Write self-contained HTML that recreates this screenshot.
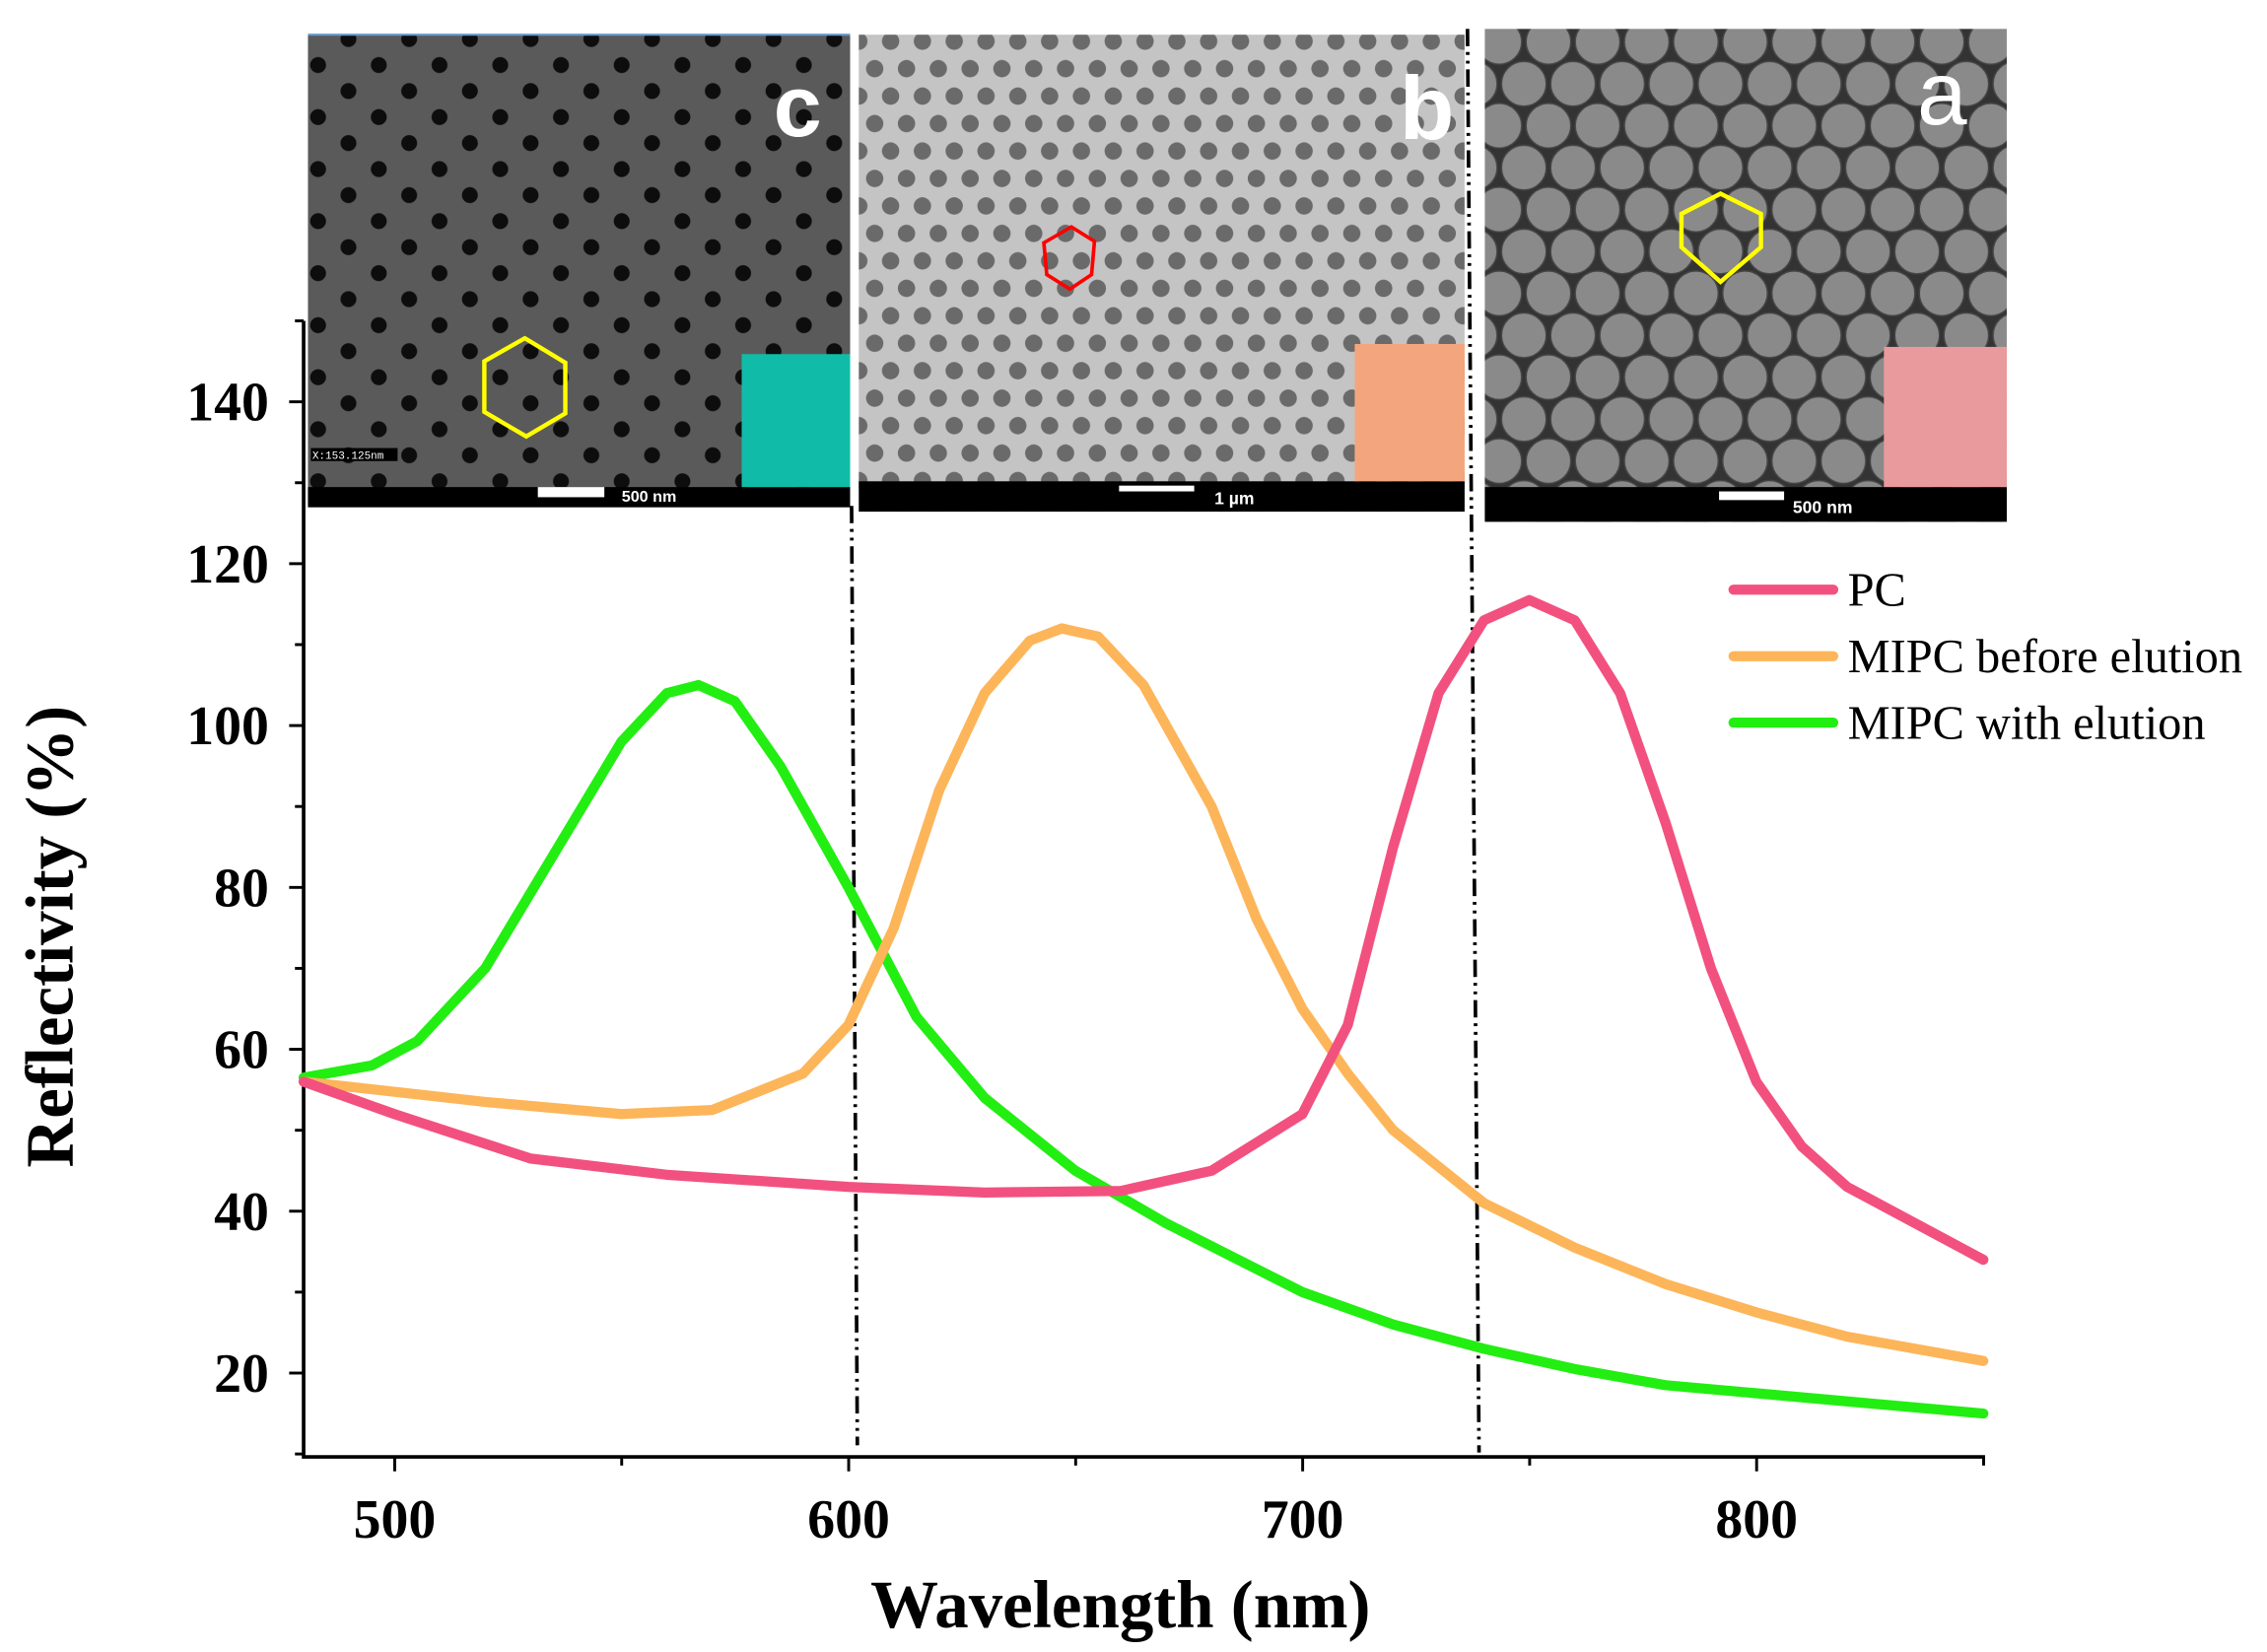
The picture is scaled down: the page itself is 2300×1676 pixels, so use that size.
<!DOCTYPE html>
<html><head><meta charset="utf-8"><style>html,body{margin:0;padding:0;background:#fff}svg{display:block}</style></head>
<body>
<svg width="2300" height="1676" viewBox="0 0 1568 1143" preserveAspectRatio="none" xmlns="http://www.w3.org/2000/svg">
<defs>
<pattern id="pc" width="42" height="36" patternUnits="userSpaceOnUse">
<rect width="42" height="36" fill="#5a5a5a"/>
<circle cx="10" cy="9" r="5.5" fill="#0d0d0d"/><circle cx="31" cy="27" r="5.5" fill="#0d0d0d"/>
</pattern>
<pattern id="pb" width="22" height="38" patternUnits="userSpaceOnUse">
<rect width="22" height="38" fill="#c4c4c4"/>
<circle cx="11" cy="9.5" r="6" fill="#6a6a6a"/><circle cx="0" cy="28.5" r="6" fill="#6a6a6a"/><circle cx="22" cy="28.5" r="6" fill="#6a6a6a"/>
</pattern>
<pattern id="pa" width="34" height="58" patternUnits="userSpaceOnUse">
<rect width="34" height="58" fill="#333"/>
<g fill="#8a8a8a" stroke="#444" stroke-width="1">
<circle cx="0" cy="0" r="15.5"/><circle cx="34" cy="0" r="15.5"/><circle cx="17" cy="29" r="15.5"/><circle cx="0" cy="58" r="15.5"/><circle cx="34" cy="58" r="15.5"/>
</g>
</pattern>
</defs>
<rect width="1568" height="1143" fill="#fff"/>

<!-- SEM c -->
<rect x="213" y="24" width="375" height="326" fill="url(#pc)"/>
<line x1="213" y1="24" x2="588" y2="24" stroke="#6a9ac8" stroke-width="1.5"/>
<rect x="213" y="337" width="375" height="14" fill="#000"/>
<rect x="372" y="337" width="46" height="7" fill="#fff"/>
<text x="430" y="347" font-family="Liberation Sans,sans-serif" font-weight="bold" font-size="11" fill="#fff">500 nm</text>
<rect x="215" y="310" width="60" height="9" fill="#000"/>
<text x="216" y="317.5" font-family="Liberation Mono,monospace" font-size="7.5" fill="#fff">X:153.125nm</text>
<rect x="513" y="245" width="75" height="92" fill="#10bca8"/>
<text x="535" y="94" font-family="Liberation Sans,sans-serif" font-weight="bold" font-size="60" fill="#fff">c</text>
<polygon points="363,234 391,251 391,286 364,302 335,285 335,250" fill="none" stroke="#ffff00" stroke-width="3"/>

<!-- SEM b -->
<rect x="594" y="24" width="419" height="330" fill="url(#pb)"/>
<rect x="594" y="333" width="419" height="21" fill="#000"/>
<rect x="774" y="336" width="52" height="4" fill="#fff"/>
<text x="840" y="349" font-family="Liberation Sans,sans-serif" font-weight="bold" font-size="12" fill="#fff">1 µm</text>
<rect x="937" y="238" width="76" height="95" fill="#f3a67e"/>
<text x="968" y="96" font-family="Liberation Sans,sans-serif" font-weight="bold" font-size="62" fill="#fff">b</text>
<polygon points="741,157 757,167 755,190 740,200 724,190 722,168" fill="none" stroke="#ff0000" stroke-width="2.5"/>

<!-- SEM a -->
<rect x="1027" y="20" width="361" height="341" fill="url(#pa)"/>
<rect x="1027" y="337" width="361" height="24" fill="#000"/>
<rect x="1189" y="340" width="45" height="6" fill="#fff"/>
<text x="1240" y="355" font-family="Liberation Sans,sans-serif" font-weight="bold" font-size="12" fill="#fff">500 nm</text>
<rect x="1303" y="240" width="85" height="97" fill="#e99a9c"/>
<text x="1326" y="86" font-family="Liberation Sans,sans-serif" font-size="62" fill="#fff">a</text>
<polygon points="1190,195 1218,171 1218,148 1190,134 1163,148 1163,171" fill="none" stroke="#ffff00" stroke-width="3"/>

<!-- axes -->
<g stroke="#000" stroke-width="2.5" fill="none">
<polyline points="210,222 210,1008 1373,1008"/>
</g>
<g stroke="#000" stroke-width="2">
<line x1="200" y1="950" x2="210" y2="950"/><line x1="200" y1="838" x2="210" y2="838"/><line x1="200" y1="726" x2="210" y2="726"/><line x1="200" y1="614" x2="210" y2="614"/><line x1="200" y1="502" x2="210" y2="502"/><line x1="200" y1="390" x2="210" y2="390"/><line x1="200" y1="278" x2="210" y2="278"/>
<line x1="204" y1="894" x2="210" y2="894"/><line x1="204" y1="782" x2="210" y2="782"/><line x1="204" y1="670" x2="210" y2="670"/><line x1="204" y1="558" x2="210" y2="558"/><line x1="204" y1="446" x2="210" y2="446"/><line x1="204" y1="334" x2="210" y2="334"/><line x1="204" y1="222" x2="210" y2="222"/><line x1="204" y1="1006" x2="210" y2="1006"/>
<line x1="273" y1="1008" x2="273" y2="1018"/><line x1="587" y1="1008" x2="587" y2="1018"/><line x1="901" y1="1008" x2="901" y2="1018"/><line x1="1215" y1="1008" x2="1215" y2="1018"/>
<line x1="430" y1="1008" x2="430" y2="1014"/><line x1="744" y1="1008" x2="744" y2="1014"/><line x1="1058" y1="1008" x2="1058" y2="1014"/><line x1="1372" y1="1008" x2="1372" y2="1014"/>
</g>
<g font-family="Liberation Serif,serif" font-weight="bold" font-size="38" fill="#000" text-anchor="end">
<text x="186" y="963">20</text><text x="186" y="851">40</text><text x="186" y="739">60</text><text x="186" y="627">80</text><text x="186" y="515">100</text><text x="186" y="403">120</text><text x="186" y="291">140</text>
</g>
<g font-family="Liberation Serif,serif" font-weight="bold" font-size="38" fill="#000" text-anchor="middle">
<text x="273" y="1064">500</text><text x="587" y="1064">600</text><text x="901" y="1064">700</text><text x="1215" y="1064">800</text>
</g>
<text x="775" y="1126" text-anchor="middle" font-family="Liberation Serif,serif" font-weight="bold" font-size="47">Wavelength (nm)</text>
<text transform="translate(50,648) rotate(-90)" text-anchor="middle" font-family="Liberation Serif,serif" font-weight="bold" font-size="47">Reflectivity (%)</text>

<!-- dashed lines -->
<g stroke="#000" stroke-width="2.5" stroke-dasharray="12,4,2,4,2,4" fill="none">
<line x1="589" y1="350" x2="593" y2="1000"/>
<line x1="1015" y1="20" x2="1023" y2="1005"/>
</g>

<!-- curves -->
<g fill="none" stroke-width="7" stroke-linejoin="round" stroke-linecap="round">
<polyline stroke="#22ee12" points="210,745.6 257.1,737.2 288.5,720.4 335.6,670 382.7,591.6 429.8,513.2 461.2,479.6 483.2,474 508.3,485.2 539.7,530 586.8,614 633.9,703.6 681,759.6 743.8,810 806.6,846.4 900.8,894 963.6,916.4 1026.4,933.2 1089.2,947.2 1152,958.4 1214.8,964 1277.6,969.6 1371.8,978"/>
<polyline stroke="#fdb55a" points="210,748.4 335.6,762.4 429.8,770.8 492.6,768 555.4,742.8 586.8,709.2 618.2,642 649.6,546.8 681,479.6 712.4,443.2 734.4,434.8 759.5,440.4 790.9,474 838,558 869.4,636.4 900.8,698 932.2,742.8 963.6,782 1026.4,832.4 1089.2,863.2 1152,888.4 1214.8,908 1277.6,924.8 1371.8,941.6"/>
<polyline stroke="#f2517f" points="210,748.4 272.8,770.8 367,801.6 461.2,812.8 586.8,821.2 681,825.1 775.2,824 838,810 900.8,770.8 932.2,709.2 963.6,586 995,479.6 1026.4,429.2 1057.8,415.2 1089.2,429.2 1120.6,479.6 1152,569.2 1183.4,670 1214.8,748.4 1246.2,793.2 1277.6,821.2 1309,838 1371.8,871.6"/>
</g>

<!-- legend -->
<g stroke-width="7" stroke-linecap="round">
<line x1="1199" y1="408" x2="1268" y2="408" stroke="#f2517f"/>
<line x1="1199" y1="454" x2="1268" y2="454" stroke="#fdb55a"/>
<line x1="1199" y1="500" x2="1268" y2="500" stroke="#22ee12"/>
</g>
<g font-family="Liberation Serif,serif" font-size="33" fill="#000">
<text x="1278" y="419">PC</text><text x="1278" y="465">MIPC before elution</text><text x="1278" y="511">MIPC with elution</text>
</g>
</svg>
</body></html>
